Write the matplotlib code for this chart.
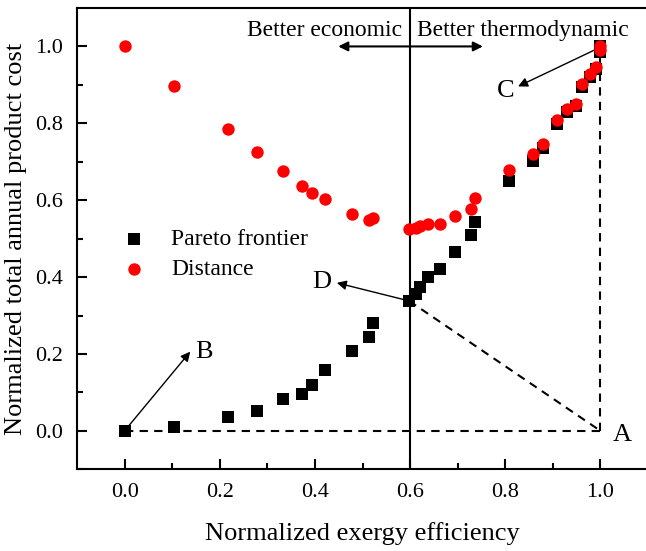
import matplotlib.pyplot as plt

plt.rcParams['font.family'] = 'Liberation Serif'

# normalized exergy efficiency of each pareto solution
efficiency = [0.0, 0.104, 0.217, 0.278, 0.332, 0.372, 0.393, 0.422, 0.478, 0.513,
              0.523, 0.598, 0.613, 0.621, 0.638, 0.663, 0.694, 0.728, 0.736, 0.808,
              0.859, 0.880, 0.908, 0.929, 0.948, 0.961, 0.979, 0.991, 1.0, 1.0]
# normalized total annual product cost
cost = [0.0, 0.011, 0.036, 0.051, 0.082, 0.096, 0.118, 0.158, 0.209, 0.245,
        0.280, 0.338, 0.356, 0.375, 0.399, 0.421, 0.466, 0.509, 0.544, 0.650,
        0.702, 0.735, 0.798, 0.830, 0.845, 0.894, 0.920, 0.942, 0.985, 1.0]
# distance of each solution to the ideal point A
distance = [1.0, 0.897, 0.784, 0.725, 0.675, 0.638, 0.620, 0.602, 0.564, 0.548,
            0.553, 0.525, 0.528, 0.533, 0.539, 0.539, 0.559, 0.577, 0.606, 0.678,
            0.719, 0.745, 0.809, 0.838, 0.851, 0.903, 0.927, 0.947, 0.990, 1.0]

ideal = (1.0, 0.0)
best = (efficiency[11], cost[11])

fig = plt.figure(figsize=(6.46, 5.51), dpi=100)
ax = fig.add_axes([0.1192, 0.1483, 0.8839, 0.8372])

# reference lines
ax.axvline(0.6, color='black', lw=1.5, zorder=1)
dash = dict(color='black', lw=1.5, ls=(0, (4, 3)), zorder=1)
ax.plot([0.0, ideal[0]], [0.0, ideal[1]], **dash)
ax.plot([ideal[0], ideal[0]], [ideal[1], 1.0], **dash)
ax.plot([best[0], ideal[0]], [best[1], ideal[1]], **dash)

ax.scatter(efficiency, cost, marker='s', s=70, color='black', linewidths=0,
           label='Pareto frontier', zorder=3)
ax.scatter(efficiency, distance, marker='o', s=80, color='red', linewidths=0,
           label='Distance', zorder=4)

arrow = dict(arrowstyle='-|>', color='black', lw=1, mutation_scale=14,
             shrinkA=0, shrinkB=0)
ax.annotate('', xy=(0.138, 0.206), xytext=(0.0, 0.0), arrowprops=arrow)
ax.text(0.148, 0.206, 'B', fontsize=19, va='center', ha='left')
ax.annotate('', xy=(0.827, 0.896), xytext=(1.0, 0.998), arrowprops=arrow)
ax.text(0.80, 0.885, 'C', fontsize=19, va='center', ha='center')
ax.annotate('', xy=(0.446, 0.385), xytext=best, arrowprops=arrow)
ax.text(0.415, 0.388, 'D', fontsize=19, va='center', ha='center')
ax.text(1.045, -0.01, 'A', fontsize=19, va='center', ha='center')

ax.annotate('', xy=(0.449, 1.0), xytext=(0.753, 1.0),
            arrowprops=dict(arrowstyle='<|-|>', color='black', lw=1.5,
                            mutation_scale=14, shrinkA=0, shrinkB=0))
ax.text(0.583, 1.042, 'Better economic', fontsize=17, ha='right', va='center')
ax.text(0.615, 1.042, 'Better thermodynamic', fontsize=17, ha='left', va='center')

ax.set_xlim(-0.1, 1.1)
ax.set_ylim(-0.1, 1.1)
ax.set_xticks([0.0, 0.2, 0.4, 0.6, 0.8, 1.0])
ax.set_yticks([0.0, 0.2, 0.4, 0.6, 0.8, 1.0])
ax.set_xticks([0.1, 0.3, 0.5, 0.7, 0.9], minor=True)
ax.set_yticks([-0.1, 0.1, 0.3, 0.5, 0.7, 0.9], minor=True)
ax.tick_params(which='both', direction='in', width=1.5, labelsize=16, pad=10)
ax.tick_params(which='major', length=7)
ax.tick_params(which='minor', length=4)
for s in ax.spines.values():
    s.set_linewidth(1.5)

ax.set_xlabel('Normalized exergy efficiency', fontsize=19, labelpad=14)
ax.set_ylabel('Normalized total annual product cost', fontsize=19, labelpad=6)

ax.legend(loc='center left', bbox_to_anchor=(0.0, 0.466), frameon=False,
          fontsize=17, handletextpad=0.6, labelspacing=0.35, borderaxespad=1.0)

fig.savefig('out.png', dpi=100)
